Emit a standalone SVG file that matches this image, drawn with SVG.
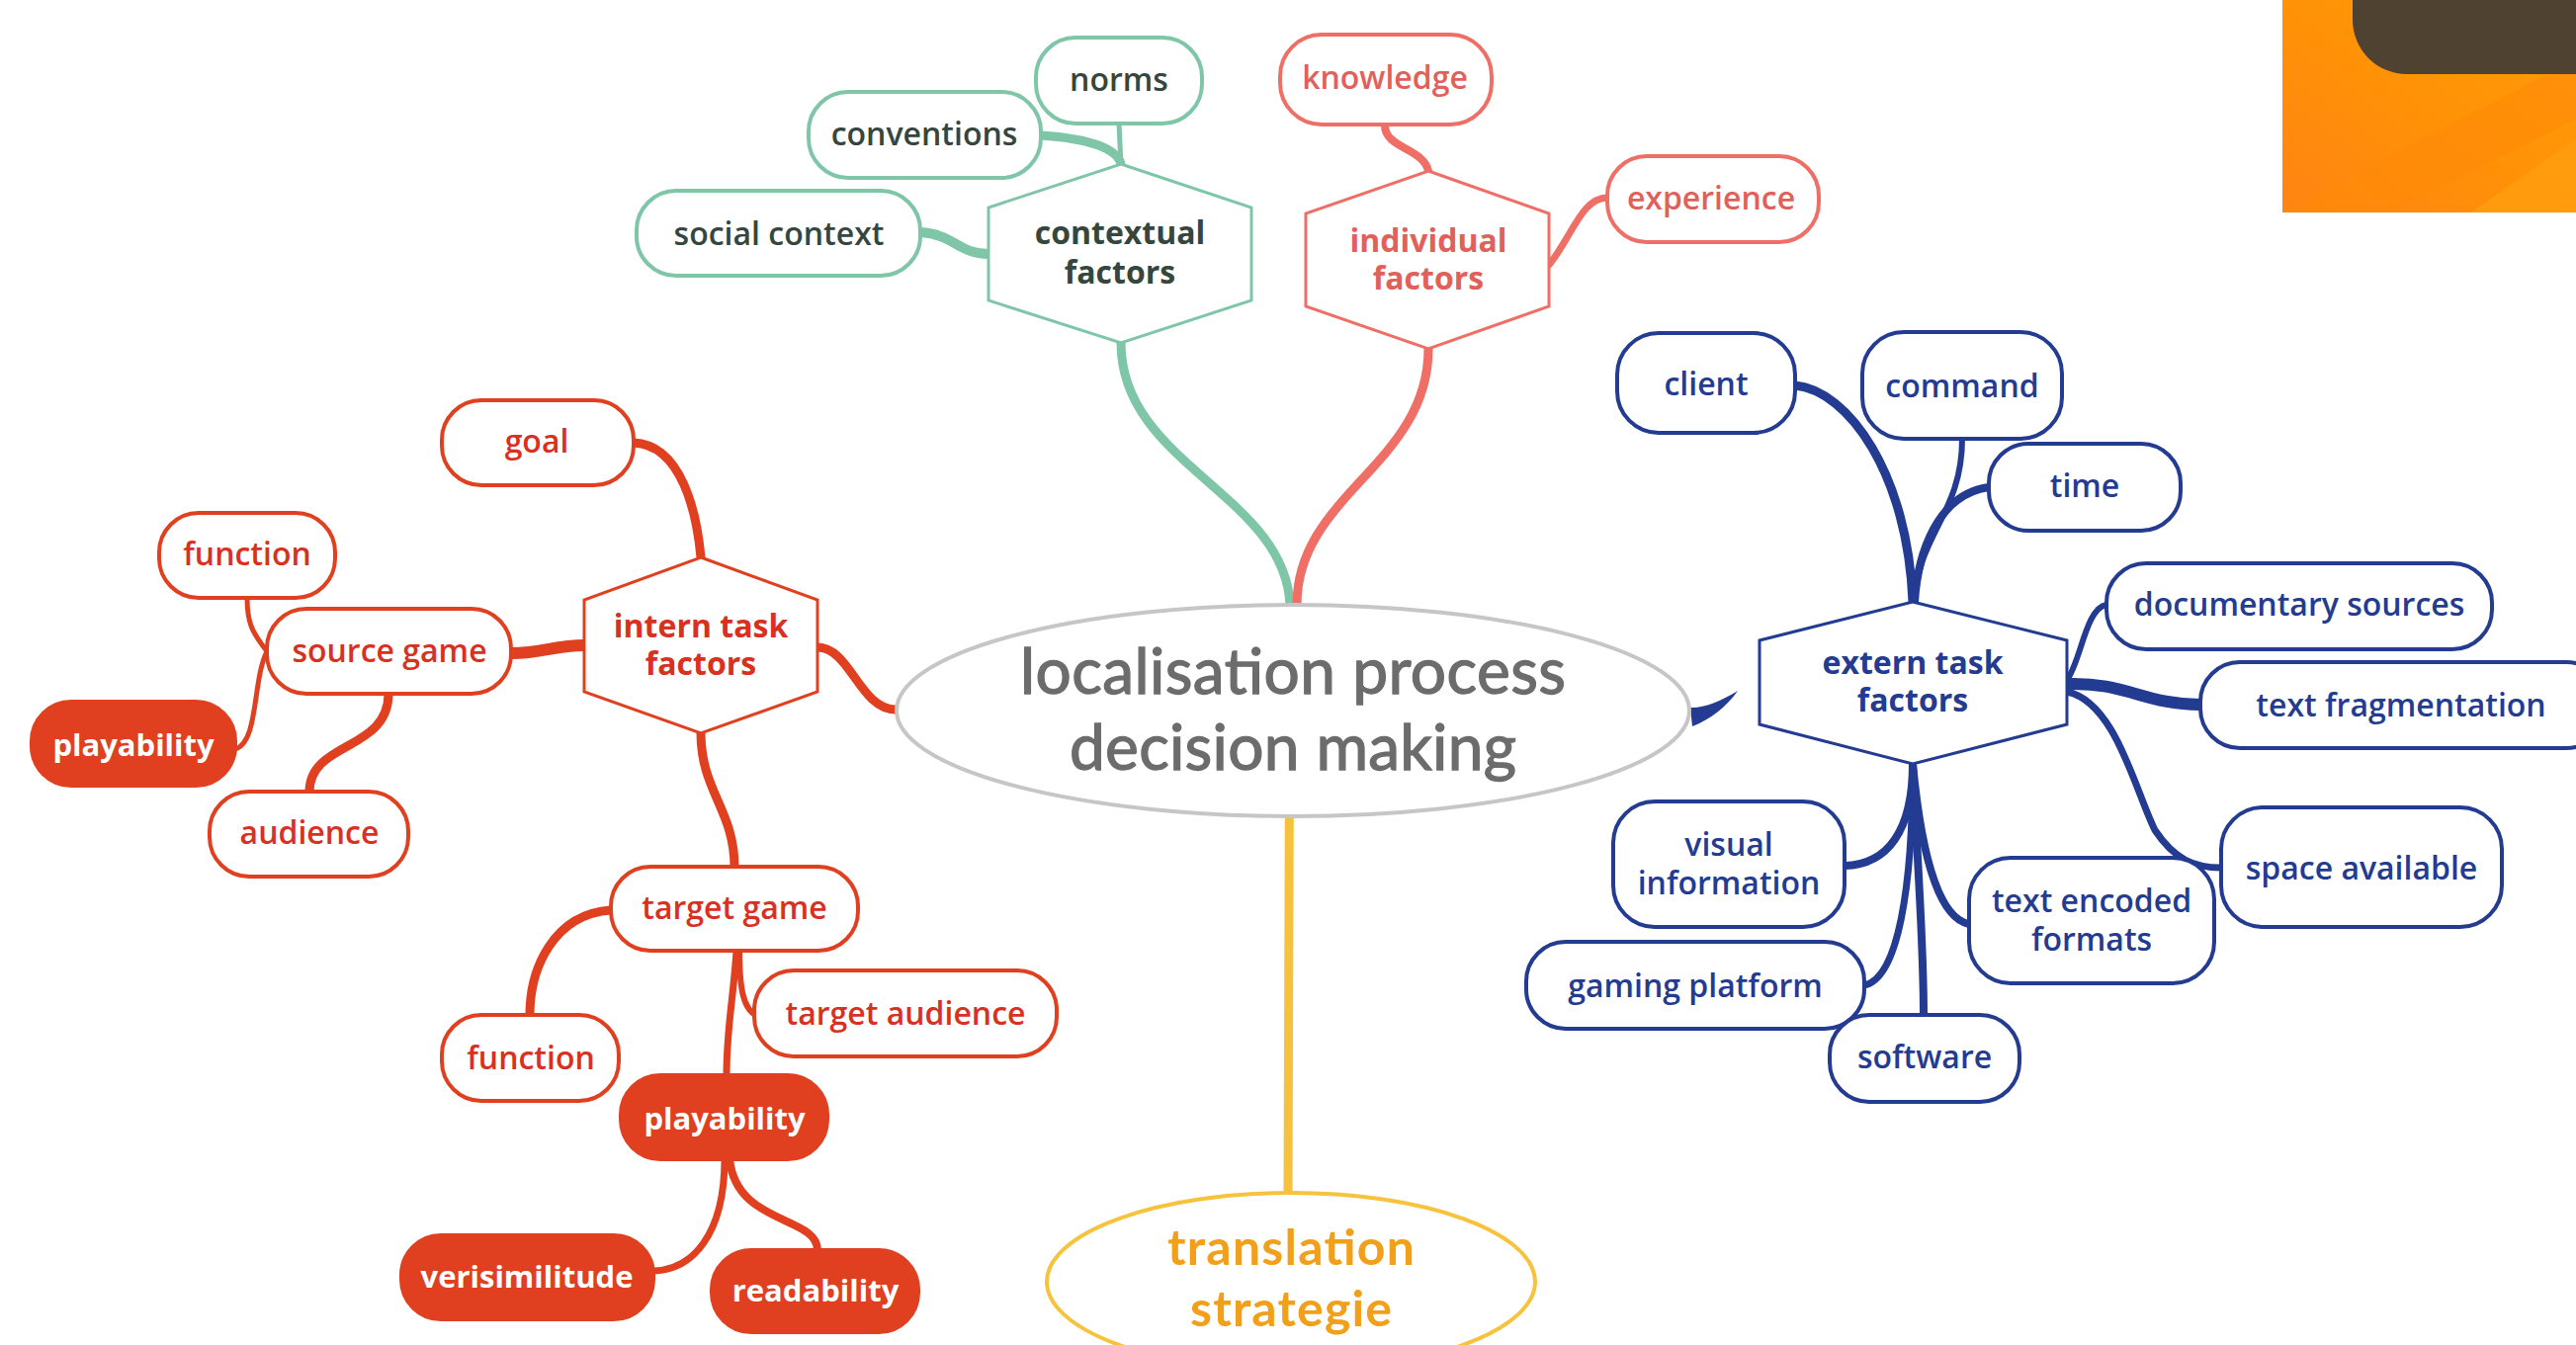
<svg xmlns="http://www.w3.org/2000/svg" width="2606" height="1361" viewBox="0 0 2606 1361">
<defs>
<style>
.t{font-family:"Open Sans","Liberation Sans",sans-serif;font-size:32px;font-weight:600;text-anchor:middle}
.hb{font-family:"Open Sans","Liberation Sans",sans-serif;font-size:32px;font-weight:700;text-anchor:middle}
.fb{font-family:"Open Sans","Liberation Sans",sans-serif;font-size:31px;font-weight:700;text-anchor:middle;fill:#ffffff}
.teal{fill:#ffffff;stroke:#7fc6a8;stroke-width:4}
.sal{fill:#ffffff;stroke:#ef6e65;stroke-width:4}
.red{fill:#ffffff;stroke:#e0401f;stroke-width:4}
.redf{fill:#e0401f;stroke:#e0401f;stroke-width:4}
.blue{fill:#ffffff;stroke:#233b90;stroke-width:4}
.hex{stroke-width:3}
.tt{fill:#34463e}
.st{fill:#e2605a}
.rt{fill:#d9301f}
.bt{fill:#233b90}
.c{fill:none;stroke-linecap:round}
.ct{stroke:#7fc6a8}
.cs{stroke:#ef6e65}
.cr{stroke:#e0401f}
.cb{stroke:#233b90}
</style>
<linearGradient id="og" x1="0" y1="1" x2="1" y2="0">
<stop offset="0" stop-color="#ff8414"/>
<stop offset="0.5" stop-color="#ff9206"/>
<stop offset="1" stop-color="#ff9c0a"/>
</linearGradient>
</defs>
<rect width="2606" height="1361" fill="#ffffff"/>

<g id="corner-image">
<rect x="2309" y="0" width="297" height="215" fill="url(#og)"/>
<polygon points="2309,215 2420,215 2606,120 2606,60" fill="#ff8a08" opacity="0.6"/>
<polygon points="2500,215 2606,215 2606,140" fill="#ffa010" opacity="0.7"/>
<path d="M2380,0 H2606 V75 H2435 A55,55 0 0 1 2380,20 Z" fill="#4f4230"/>
</g>

<g id="connectors">
<path class="c" d="M1305,612 L1303,1206" stroke="#f6c13c" stroke-width="9"/>
<path class="c ct" d="M1134,347 C1134,470 1300,500 1305,612" stroke-width="9"/>
<path class="c cs" d="M1445,353 C1445,470 1312,500 1312,612" stroke-width="9"/>
<path class="c ct" d="M1132,125 L1134,166" stroke-width="5"/>
<path class="c ct" d="M1053,137 C1100,140 1130,150 1134,166" stroke-width="9"/>
<path class="c ct" d="M931,235 C965,237 970,257 1000,257" stroke-width="10"/>
<path class="c cs" d="M1401,127 C1401,150 1440,150 1445,173" stroke-width="8"/>
<path class="c cs" d="M1626,200 C1600,200 1590,240 1567,268" stroke-width="7"/>

<path class="c cr" d="M827,655 C860,655 870,718 906,718" stroke-width="9"/>
<path class="c cr" d="M641,448 C690,450 705,520 709,564" stroke-width="9"/>
<path class="c cr" d="M517,661 C550,661 560,653 591,653" stroke-width="12"/>
<path class="c cr" d="M270,659 C255,640 250,630 250,605" stroke-width="5"/>
<path class="c cr" d="M270,659 C255,690 262,750 238,758" stroke-width="5"/>
<path class="c cr" d="M393,702 C393,760 313,750 313,801" stroke-width="9"/>
<path class="c cr" d="M709,742 C709,800 743,820 743,877" stroke-width="9"/>
<path class="c cr" d="M618,921 C560,925 536,980 536,1027" stroke-width="9"/>
<path class="c cr" d="M748,962 C748,1000 752,1020 764,1027" stroke-width="6"/>
<path class="c cr" d="M745,962 C742,1010 735,1040 735,1088" stroke-width="7"/>
<path class="c cr" d="M733,1173 C733,1250 700,1285 661,1286" stroke-width="7"/>
<path class="c cr" d="M738,1173 C745,1240 827,1230 827,1265" stroke-width="8"/>

<path d="M1710,716 C1722,717 1740,710 1758,699 C1746,716 1730,728 1712,735 Z" fill="#233b90"/>
<path class="c cb" d="M1816,390 C1870,395 1930,480 1935,609" stroke-width="9"/>
<path class="c cb" d="M1985,444 C1985,520 1940,540 1937,609" stroke-width="6"/>
<path class="c cb" d="M2012,493 C1960,500 1940,560 1937,609" stroke-width="8"/>
<path class="c cb" d="M2131,612 C2110,615 2105,670 2091,688" stroke-width="6"/>
<path class="c cb" d="M2226,713 C2170,713 2150,690 2091,692" stroke-width="12"/>
<path class="c cb" d="M2091,700 C2140,710 2160,800 2180,840 C2200,870 2220,878 2247,878" stroke-width="7"/>
<path class="c cb" d="M1935,773 C1935,840 1910,875 1866,876" stroke-width="8"/>
<path class="c cb" d="M1935,773 C1935,900 1920,990 1886,997" stroke-width="7"/>
<path class="c cb" d="M1935,773 C1940,880 1946,950 1946,1027" stroke-width="8"/>
<path class="c cb" d="M1935,773 C1945,880 1965,930 1992,935" stroke-width="8"/>
</g>

<g id="center">
<ellipse cx="1308" cy="719" rx="401" ry="107" fill="#ffffff" stroke="#c6c6c6" stroke-width="4"/>
<text font-family="Lato,'Liberation Sans',sans-serif" font-size="64" fill="#6c6c6c" stroke="#6c6c6c" stroke-width="1.3" text-anchor="middle"><tspan x="1308" y="702" textLength="552">localisation process</tspan><tspan x="1308" y="779" textLength="452">decision making</tspan></text>
</g>

<g id="translation-strategie">
<ellipse cx="1306" cy="1297" rx="247" ry="90" fill="#ffffff" stroke="#f7c23c" stroke-width="4"/>
<text font-family="Lato,'Liberation Sans',sans-serif" font-size="50" font-weight="700" fill="#f2a01a" text-anchor="middle"><tspan x="1306" y="1280" textLength="250">translation</tspan><tspan x="1306" y="1342" textLength="204">strategie</tspan></text>
</g>

<g id="contextual-factors">
<polygon class="teal hex" points="1134,166 1266,210 1266,304 1134,347 1000,304 1000,210"/>
<text class="hb tt"><tspan x="1133" y="247">contextual</tspan><tspan x="1133" y="287">factors</tspan></text>
</g>
<g id="norms"><rect class="teal" x="1048" y="38" width="168" height="87" rx="40"/><text class="t tt" x="1132" y="92">norms</text></g>
<g id="conventions"><rect class="teal" x="818" y="93" width="235" height="87" rx="40"/><text class="t tt" x="935" y="147">conventions</text></g>
<g id="social-context"><rect class="teal" x="644" y="193" width="287" height="86" rx="40"/><text class="t tt" x="788" y="248">social context</text></g>

<g id="individual-factors">
<polygon class="sal hex" points="1445,173 1567,216 1567,310 1445,353 1321,310 1321,216"/>
<text class="hb st"><tspan x="1445" y="255">individual</tspan><tspan x="1445" y="293">factors</tspan></text>
</g>
<g id="knowledge"><rect class="sal" x="1295" y="35" width="214" height="91" rx="42"/><text class="t st" x="1401" y="90">knowledge</text></g>
<g id="experience"><rect class="sal" x="1626" y="158" width="214" height="87" rx="40"/><text class="t st" x="1731" y="212">experience</text></g>

<g id="intern-task-factors">
<polygon class="red hex" points="709,564 827,607 827,700 709,742 591,700 591,607"/>
<text class="hb rt"><tspan x="709" y="645">intern task</tspan><tspan x="709" y="683">factors</tspan></text>
</g>
<g id="goal"><rect class="red" x="447" y="405" width="194" height="86" rx="40"/><text class="t rt" x="543" y="458">goal</text></g>
<g id="function-1"><rect class="red" x="161" y="519" width="178" height="86" rx="40"/><text class="t rt" x="250" y="572">function</text></g>
<g id="source-game"><rect class="red" x="270" y="616" width="247" height="86" rx="40"/><text class="t rt" x="394" y="670">source game</text></g>
<g id="playability-1"><rect class="redf" x="32" y="710" width="206" height="85" rx="40"/><text class="fb" x="135" y="765">playability</text></g>
<g id="audience"><rect class="red" x="212" y="801" width="201" height="86" rx="40"/><text class="t rt" x="313" y="854">audience</text></g>
<g id="target-game"><rect class="red" x="618" y="877" width="250" height="85" rx="40"/><text class="t rt" x="743" y="930">target game</text></g>
<g id="target-audience"><rect class="red" x="763" y="982" width="306" height="87" rx="40"/><text class="t rt" x="916" y="1037">target audience</text></g>
<g id="function-2"><rect class="red" x="447" y="1027" width="179" height="87" rx="40"/><text class="t rt" x="537" y="1082">function</text></g>
<g id="playability-2"><rect class="redf" x="628" y="1088" width="209" height="85" rx="40"/><text class="fb" x="733" y="1143">playability</text></g>
<g id="verisimilitude"><rect class="redf" x="406" y="1250" width="255" height="85" rx="40"/><text class="fb" x="533" y="1303">verisimilitude</text></g>
<g id="readability"><rect class="redf" x="720" y="1265" width="209" height="83" rx="40"/><text class="fb" x="825" y="1317">readability</text></g>

<g id="extern-task-factors">
<polygon class="blue hex" points="1935,609 2091,648 2091,733 1935,773 1780,733 1780,648"/>
<text class="hb bt"><tspan x="1935" y="682">extern task</tspan><tspan x="1935" y="720">factors</tspan></text>
</g>
<g id="client"><rect class="blue" x="1636" y="337" width="180" height="101" rx="42"/><text class="t bt" x="1726" y="400">client</text></g>
<g id="command"><rect class="blue" x="1884" y="336" width="202" height="108" rx="42"/><text class="t bt" x="1985" y="402">command</text></g>
<g id="time"><rect class="blue" x="2012" y="449" width="194" height="88" rx="40"/><text class="t bt" x="2109" y="503">time</text></g>
<g id="documentary-sources"><rect class="blue" x="2131" y="570" width="390" height="87" rx="40"/><text class="t bt" x="2326" y="623">documentary sources</text></g>
<g id="text-fragmentation"><rect class="blue" x="2226" y="670" width="410" height="87" rx="40"/><text class="t bt" x="2429" y="725">text fragmentation</text></g>
<g id="space-available"><rect class="blue" x="2247" y="817" width="284" height="121" rx="42"/><text class="t bt" x="2389" y="890">space available</text></g>
<g id="visual-information"><rect class="blue" x="1632" y="811" width="234" height="127" rx="42"/><text class="t bt"><tspan x="1749" y="866">visual</tspan><tspan x="1749" y="905">information</tspan></text></g>
<g id="gaming-platform"><rect class="blue" x="1544" y="953" width="342" height="88" rx="40"/><text class="t bt" x="1715" y="1009">gaming platform</text></g>
<g id="software"><rect class="blue" x="1851" y="1027" width="192" height="88" rx="40"/><text class="t bt" x="1947" y="1081">software</text></g>
<g id="text-encoded-formats"><rect class="blue" x="1992" y="868" width="248" height="127" rx="42"/><text class="t bt"><tspan x="2116" y="923">text encoded</tspan><tspan x="2116" y="962">formats</tspan></text></g>
</svg>
